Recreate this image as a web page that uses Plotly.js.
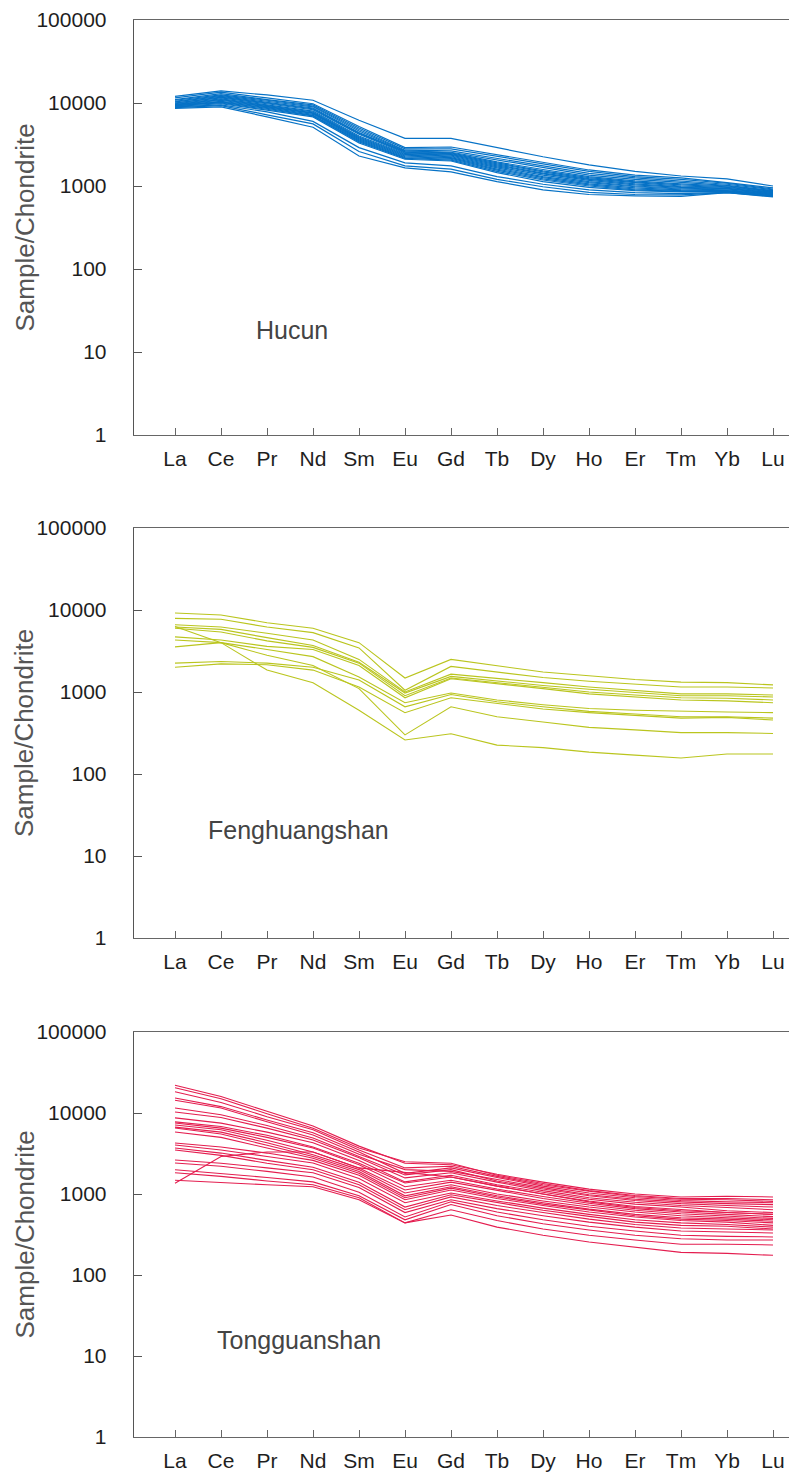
<!DOCTYPE html>
<html>
<head>
<meta charset="utf-8">
<script src="https://cdn.plot.ly/plotly-3.0.1.min.js"></script>
<style>html,body{margin:0;padding:0;background:#fff;}#chart{width:789px;height:1474px;}</style>
</head>
<body>
<div id="chart"></div>
<script>
// Chondrite-normalised REE patterns
const ree = ['La','Ce','Pr','Nd','Sm','Eu','Gd','Tb','Dy','Ho','Er','Tm','Yb','Lu'];
const yTickVals = [1, 10, 100, 1000, 10000, 100000];
const yTickText = ['1', '10', '100', '1000', '10000', '100000'];
const siteNames = ['Hucun', 'Fenghuangshan', 'Tongguanshan'];

// Hucun samples (La ... Lu)
const hucun = [
  [12000,14000,12500,10800,6200,3750,3750,2900,2250,1800,1500,1320,1220,1000],
  [11500,13500,11500,9800,5200,2900,2950,2400,1950,1560,1350,1250,1100,950],
  [11000,13000,11000,9500,5000,2800,2800,2300,1850,1500,1300,1200,1080,920],
  [10800,12500,10800,9200,4800,2700,2650,2150,1750,1420,1250,1150,1050,900],
  [10500,12300,10500,9000,4600,2650,2550,2050,1650,1350,1200,1100,1020,880],
  [10300,12000,10200,8700,4400,2600,2500,1950,1580,1300,1150,1060,1000,870],
  [10000,11800,10000,8500,4300,2550,2450,1900,1520,1260,1120,1030,980,860],
  [10000,11500,9800,8300,4200,2500,2400,1850,1480,1230,1100,1000,960,850],
  [9800,11200,9500,8000,4000,2450,2350,1800,1430,1200,1060,980,940,840],
  [9600,11000,9300,7800,3900,2400,2300,1750,1400,1170,1030,960,930,830],
  [9500,10800,9100,7600,3800,2350,2250,1700,1350,1130,1000,940,920,820],
  [9400,10500,9000,7500,3700,2300,2200,1650,1300,1100,980,920,900,810],
  [9300,10300,8800,7300,3600,2250,2150,1600,1260,1060,950,900,880,800],
  [9200,10200,8600,7100,3500,2200,2100,1550,1220,1030,920,880,870,790],
  [9500,10000,8400,7000,3400,2150,2050,1500,1180,1000,900,860,860,780],
  [9100,9800,8200,6800,3300,2100,2000,1450,1130,960,880,850,850,770],
  [9000,9500,7800,6000,2900,1900,1750,1300,1050,900,830,810,840,760],
  [8800,9300,7200,5600,2600,1750,1600,1200,980,840,790,780,830,750],
  [8600,9000,6800,5100,2300,1650,1480,1130,900,790,760,750,830,740]
];

// Fenghuangshan samples (La ... Lu)
const fenghuangshan = [
  [9200,8700,7000,6000,4000,1480,2500,2080,1750,1580,1420,1320,1300,1220],
  [7900,7700,6200,5300,3450,1050,2050,1750,1500,1350,1250,1150,1150,1120],
  [6600,6200,5200,4300,2500,1000,1650,1450,1300,1150,1050,950,950,920],
  [6200,5800,4600,3700,2300,970,1550,1350,1200,1080,980,900,900,870],
  [6000,5400,4200,3500,2250,900,1480,1300,1150,1000,920,850,840,800],
  [4700,4300,3600,3300,2100,850,1450,1250,1100,950,870,800,780,740],
  [4300,4000,3300,2700,1520,740,970,800,700,630,600,580,570,560],
  [2250,2350,2250,2000,1400,660,930,760,660,580,540,500,500,480],
  [2000,2200,2150,1850,1150,560,850,720,620,560,520,480,490,455],
  [3550,4000,2800,2100,1100,300,660,500,430,370,345,320,320,312],
  [6300,4000,1850,1300,600,260,310,225,210,185,170,157,175,175]
];

// Tongguanshan samples (La ... Lu)
const tongguanshan = [
  [22000,16000,10500,6900,3900,2400,2300,1750,1400,1150,1000,920,940,920],
  [20500,15000,9800,6500,3700,2500,2400,1700,1350,1100,960,880,880,850],
  [18300,13500,9000,6200,3500,2100,2200,1650,1300,1080,930,860,850,810],
  [15300,12000,8200,5700,3300,1800,2100,1600,1250,1030,900,830,800,780],
  [14400,11500,7800,5350,3100,2000,1900,1500,1200,980,860,800,760,740],
  [11500,9500,7000,4900,2900,1720,2000,1450,1150,950,830,760,720,690],
  [10300,8800,6500,4650,2800,1580,1830,1400,1100,900,790,720,680,640],
  [8700,7500,5800,4300,2600,1410,1700,1300,1050,860,750,690,620,590],
  [7770,6800,5300,3800,2400,1370,1620,1250,1000,820,700,640,590,560],
  [7540,6500,5000,3700,2300,1230,1480,1150,930,770,660,600,560,525],
  [7100,6200,4600,3300,2100,1120,1400,1100,880,730,630,570,530,500],
  [6700,5800,4300,3050,2000,1030,1300,1000,820,690,600,540,510,480],
  [6530,5500,4000,2900,1900,950,1230,950,780,650,560,510,490,460],
  [5820,5000,3700,2770,1800,900,1180,920,750,630,540,490,470,440],
  [4260,3800,3200,2600,1700,850,1120,880,720,600,520,470,450,410],
  [4030,3500,2900,2410,1550,780,1030,820,670,560,480,440,420,390],
  [3700,3200,2600,2140,1400,690,980,780,630,530,450,410,400,370],
  [3500,3000,2400,1990,1300,640,920,720,590,490,420,380,370,360],
  [2630,2400,2100,1830,1200,590,850,660,540,450,390,350,340,330],
  [2410,2200,1900,1620,1050,520,800,600,480,400,350,310,300,295],
  [1990,1800,1600,1410,950,480,740,540,430,360,310,280,270,270],
  [1830,1650,1450,1300,900,440,640,470,370,310,270,240,240,235],
  [1480,1380,1300,1230,850,440,550,390,310,255,220,190,185,175],
  [1360,2900,3300,3300,2100,1830,1620,1250,1000,800,680,620,590,560]
];

const sites = [hucun, fenghuangshan, tongguanshan];
const colors = ['#0672C6', '#BAC51E', '#E41D4F'];
const widths = [1.2, 1.1, 1.1];
const FONT = 'Liberation Sans, Arial, Helvetica, sans-serif';

const H = 1474, W = 789;
// plot-area pixel boxes [top, bottom]
const boxes = [[20, 435], [528, 938], [1032, 1437]];
const xLeft = 134;
// category index 0 (La) sits at 175 px, 46 px per step
const xr0 = (xLeft - 175) / 46;
const xr1 = (W - 175) / 46;

const traces = [];
sites.forEach((rows, i) => {
  const xa = i === 0 ? 'x' : 'x' + (i + 1);
  const ya = i === 0 ? 'y' : 'y' + (i + 1);
  rows.forEach((vals, k) => {
    traces.push({
      type: 'scatter', mode: 'lines', x: ree, y: vals,
      xaxis: xa, yaxis: ya,
      line: {color: colors[i], width: widths[i]},
      name: siteNames[i] + ' ' + (k + 1), showlegend: false, hoverinfo: 'skip'
    });
  });
});

const layout = {
  width: W, height: H,
  margin: {l: 0, r: 0, t: 0, b: 0},
  paper_bgcolor: '#fff', plot_bgcolor: '#fff',
  showlegend: false,
  font: {family: FONT, color: '#222'},
  annotations: []
};

boxes.forEach((b, i) => {
  const sfx = i === 0 ? '' : String(i + 1);
  const yDom = [(H - b[1]) / H, (H - b[0]) / H];
  layout['xaxis' + sfx] = {
    type: 'category', domain: [xLeft / W, 1], range: [xr0, xr1],
    anchor: 'y' + sfx,
    showgrid: false, zeroline: false,
    showline: true, linecolor: '#666', linewidth: 1.3, mirror: true,
    ticks: 'inside', ticklen: 7, tickwidth: 1, tickcolor: '#666',
    tickfont: {size: 21, color: '#1e1e1e', family: FONT},
    ticklabelstandoff: 4,
    fixedrange: true
  };
  layout['yaxis' + sfx] = {
    type: 'log', domain: yDom, range: [0, 5],
    anchor: 'x' + sfx,
    showgrid: false, zeroline: false,
    showline: true, linecolor: '#555', linewidth: 1.3,
    ticks: 'inside', ticklen: 8, tickwidth: 1, tickcolor: '#555',
    tickvals: yTickVals, ticktext: yTickText,
    tickfont: {size: 21, color: '#1e1e1e', family: FONT},
    ticklabelstandoff: 22,
    fixedrange: true
  };
  layout.annotations.push({
    xref: 'paper', yref: 'paper',
    x: 24 / W, y: (H - (b[0] + b[1]) / 2) / H,
    text: 'Sample/Chondrite', textangle: -90, showarrow: false,
    xanchor: 'center', yanchor: 'middle',
    font: {size: 26, color: '#555', family: FONT}
  });
});

const labelPos = [[254, 330], [206, 830], [215, 1340]];
siteNames.forEach((s, i) => {
  layout.annotations.push({
    xref: 'paper', yref: 'paper',
    x: labelPos[i][0] / W, y: (H - labelPos[i][1]) / H,
    text: s, showarrow: false, xanchor: 'left', yanchor: 'middle',
    font: {size: 25, color: '#444', family: FONT}
  });
});

Plotly.newPlot('chart', traces, layout, {displayModeBar: false, staticPlot: true});
</script>
</body>
</html>
